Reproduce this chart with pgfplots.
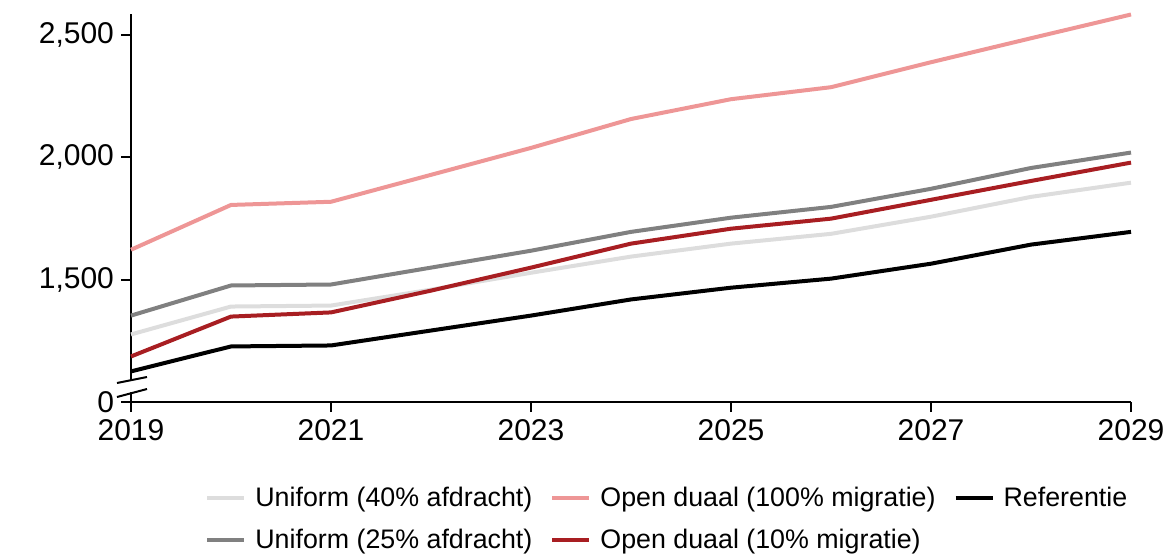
\documentclass[border=0pt]{standalone}
\usepackage{pgfplots}
\pgfplotsset{compat=1.18}
\usepackage{fontspec}
\setmainfont{Liberation Sans}

\definecolor{lgrey}{RGB}{221,221,221}
\definecolor{dgrey}{RGB}{128,128,128}
\definecolor{pink}{RGB}{238,150,150}
\definecolor{dred}{RGB}{168,30,34}

\begin{document}
\begin{tikzpicture}
\begin{axis}[
    scale only axis,
    width=500pt, height=194pt,
    xmin=2019, xmax=2029,
    ymin=1000, ymax=2585,
    axis lines*=left,
    axis line style={line width=1pt},
    tick style={line width=1pt, black},
    tick align=outside,
    major tick length=5pt,
    xtick={2019,2021,...,2029},
    xticklabels={2019,2021,2023,2025,2027,2029},
    ytick={1000,1500,2000,2500},
    yticklabels={0,{1,500},{2,000},{2,500}},
    tick label style={font=\fontsize{15}{18}\selectfont},
    legend columns=3,
    legend cell align=left,
    legend style={draw=none, at={(0.068,-0.197)}, anchor=north west,
        font=\fontsize{13.4}{15}\selectfont,
        /tikz/every odd column/.append style={column sep=2.5pt},
        /tikz/every even column/.append style={column sep=7pt},
        row sep=6pt},
    legend image code/.code={\draw[#1] (0pt,0pt) -- (18.5pt,0pt);},
    every axis plot/.append style={line width=2pt, line join=round},
    clip=false,
]
\addplot[lgrey] coordinates {
 (2019,1276) (2020,1390) (2021,1394) (2022,1459) (2023,1528) (2024,1594)
 (2025,1647) (2026,1687) (2027,1757) (2028,1838) (2029,1896)};
\addlegendentry{Uniform (40\% afdracht)}
\addplot[pink] coordinates {
 (2019,1622) (2020,1805) (2021,1818) (2022,1928) (2023,2038) (2024,2156)
 (2025,2237) (2026,2286) (2027,2388) (2028,2486) (2029,2583)};
\addlegendentry{Open duaal (100\% migratie)}
\addplot[black] coordinates {
 (2019,1125) (2020,1227) (2021,1231) (2022,1292) (2023,1353) (2024,1419)
 (2025,1467) (2026,1504) (2027,1565) (2028,1643) (2029,1695)};
\addlegendentry{Referentie}
\addplot[dgrey] coordinates {
 (2019,1353) (2020,1476) (2021,1480) (2022,1549) (2023,1618) (2024,1695)
 (2025,1753) (2026,1797) (2027,1871) (2028,1956) (2029,2019)};
\addlegendentry{Uniform (25\% afdracht)}
\addplot[dred] coordinates {
 (2019,1186) (2020,1349) (2021,1366) (2022,1455) (2023,1549) (2024,1647)
 (2025,1708) (2026,1749) (2027,1826) (2028,1903) (2029,1978)};
\addlegendentry{Open duaal (10\% migratie)}
\end{axis}
% axis break
\fill[white] ([shift={(-3pt,4.2pt)}]current axis.south west) -- ([shift={(3pt,5.8pt)}]current axis.south west)
  -- ([shift={(3pt,11.3pt)}]current axis.south west) -- ([shift={(-3pt,10.1pt)}]current axis.south west) -- cycle;
\draw[line width=1pt] ([shift={(-7pt,9.5pt)}]current axis.south west) -- ([shift={(8pt,12.5pt)}]current axis.south west);
\draw[line width=1pt] ([shift={(-7pt,2.5pt)}]current axis.south west) -- ([shift={(8pt,6.5pt)}]current axis.south west);
\pgfresetboundingbox
\path[use as bounding box] ([shift={(-65.5pt,-75.5pt)}]current axis.south west) rectangle ([shift={(519.5pt,201pt)}]current axis.south west);
\end{tikzpicture}
\end{document}
